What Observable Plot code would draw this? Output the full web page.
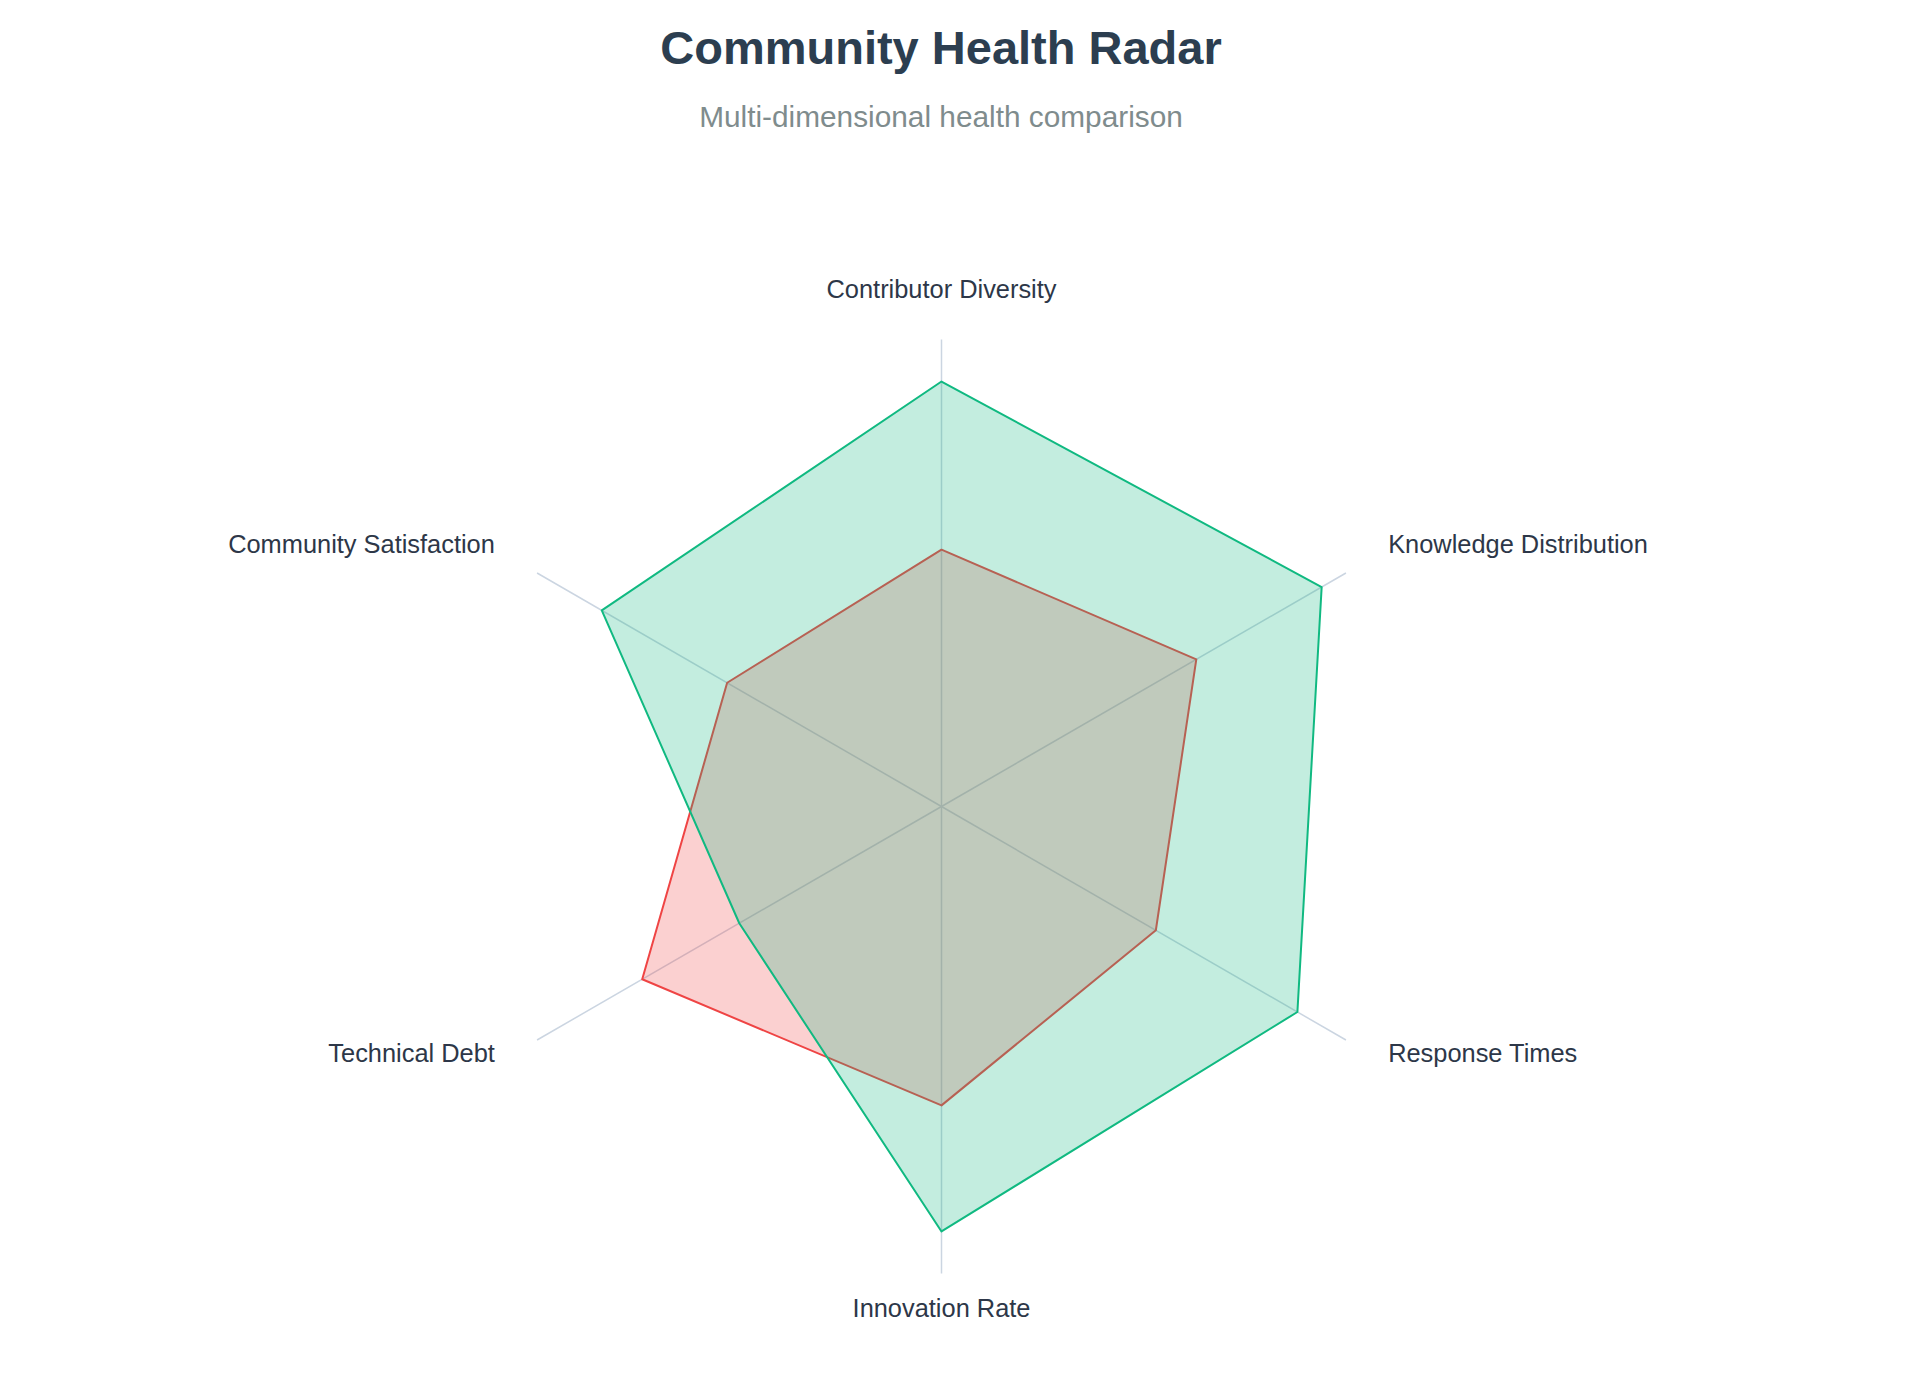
<!DOCTYPE html>
<html>
<head>
<meta charset="utf-8">
<script src="https://cdn.jsdelivr.net/npm/d3@7"></script>
<script src="https://cdn.jsdelivr.net/npm/@observablehq/plot@0.6"></script>
<style>
  html, body { margin: 0; padding: 0; background: #ffffff; }
  body { font-family: "Liberation Sans", Arial, Helvetica, sans-serif; }
  #page { position: relative; width: 1882px; height: 1398px; }
  #header { position: relative; width: 1882px; height: 160px; }
  #title { position: absolute; left: 0; width: 1882px; top: 24px; text-align: center;
           font-size: 47px; line-height: 47px; font-weight: bold; color: #2c3e50; margin: 0; }
  #subtitle { position: absolute; left: 0; width: 1882px; top: 102px; text-align: center;
              font-size: 29.8px; line-height: 29.8px; color: #7f8c8d; margin: 0; }
  #chart svg { display: block; }
</style>
</head>
<body>
<div id="page">
  <div id="header">
    <div id="title">Community Health Radar</div>
    <div id="subtitle">Multi-dimensional health comparison</div>
  </div>
  <div id="chart"></div>
</div>
<script>
// ---- data ----
const dimensions = ["Contributor Diversity", "Knowledge Distribution", "Response Times", "Innovation Rate", "Technical Debt", "Community Satisfaction"];
const healthyValues = [91, 94, 88, 91, 50, 84];   // green series
const strugglingValues = [55, 63, 53, 64, 74, 53]; // red series
const maxValue = 100;

// ---- layout ----
const width = 1882, height = 1238;
const radiusPx = 467;
const centerFromTop = 646;
const k = radiusPx / maxValue;
const labelRadius = 109.2;

const angle = i => (Math.PI / 3) * i;
const toPoint = (v, i) => ({ x: v * Math.sin(angle(i)), y: v * Math.cos(angle(i)) });

const axes = dimensions.map((d, i) => ({ name: d, ...toPoint(maxValue, i) }));
const series = (vals, name) => vals.map((v, i) => ({ series: name, dim: dimensions[i], ...toPoint(v, i) }));
const healthy = series(healthyValues, "Healthy");
const struggling = series(strugglingValues, "Struggling");

const labels = dimensions.map((d, i) => ({ name: d, i, ...toPoint(labelRadius, i) }));
const centerLabels = labels.filter(l => l.i === 0 || l.i === 3);
const rightLabels = labels.filter(l => l.i === 1 || l.i === 2);
const leftLabels = labels.filter(l => l.i === 4 || l.i === 5);

const labelStyle = { fill: "#2d3748", fontSize: 25.4, lineAnchor: "bottom", dy: 1, fontFamily: "Liberation Sans, Arial, sans-serif" };

const chart = Plot.plot({
  width, height,
  margin: 0,
  x: { domain: [-width / 2 / k, width / 2 / k], axis: null },
  y: { domain: [-(height - centerFromTop) / k, centerFromTop / k], axis: null },
  style: { background: "white", fontFamily: "Liberation Sans, Arial, sans-serif" },
  marks: [
    Plot.link(axes, { x1: 0, y1: 0, x2: "x", y2: "y", stroke: "#cbd5e1", strokeWidth: 1.5 }),
    Plot.line(struggling, { x: "x", y: "y", curve: "linear-closed", stroke: "#ef4444", strokeWidth: 2, fill: "#ef4444", fillOpacity: 0.25 }),
    Plot.line(healthy, { x: "x", y: "y", curve: "linear-closed", stroke: "#10b981", strokeWidth: 2, fill: "#10b981", fillOpacity: 0.25 }),
    Plot.text(centerLabels, { x: "x", y: "y", text: "name", textAnchor: "middle", ...labelStyle }),
    Plot.text(rightLabels, { x: "x", y: "y", text: "name", textAnchor: "start", dx: 5, ...labelStyle }),
    Plot.text(leftLabels, { x: "x", y: "y", text: "name", textAnchor: "end", dx: -5, ...labelStyle })
  ]
});
document.getElementById("chart").appendChild(chart);
</script>
</body>
</html>
